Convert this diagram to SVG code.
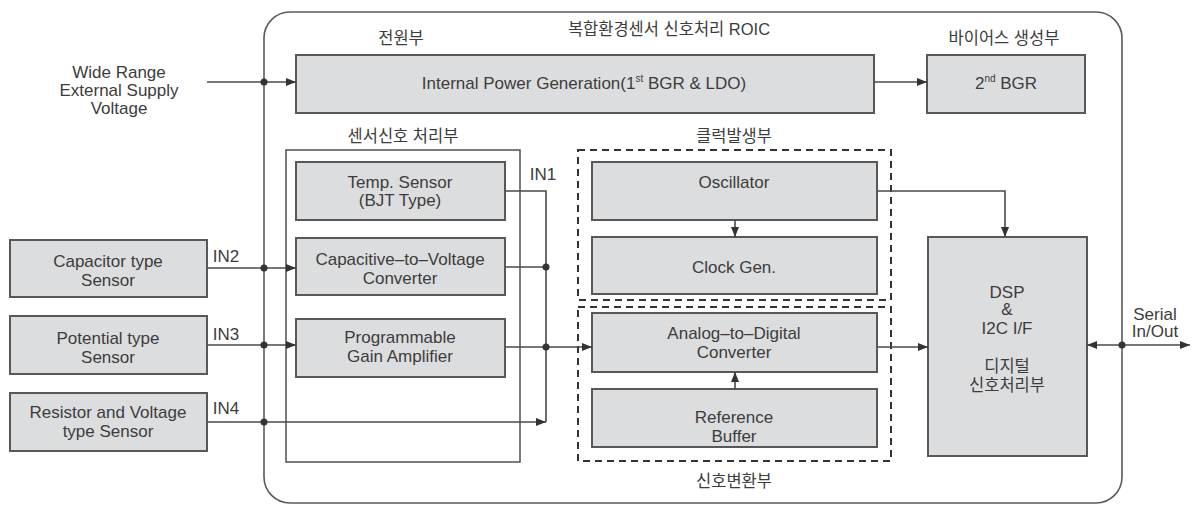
<svg xmlns="http://www.w3.org/2000/svg" width="1192" height="505" viewBox="0 0 1192 505">
<style>
text{font-family:"Liberation Sans","Noto Sans CJK KR",sans-serif;font-size:17px;fill:#3c3c3c;text-anchor:middle}
.ko{font-size:16.5px}
.sup{font-size:10px}
.box{fill:#dcdddf;stroke:#585858;stroke-width:2}
.grp{fill:none;stroke:#5a5a5a;stroke-width:1.6}
.dash{fill:none;stroke:#333;stroke-width:2;stroke-dasharray:7 5}
.ln{fill:none;stroke:#4a4a4a;stroke-width:1.6}
.dot{fill:#333}
</style>
<defs>
<marker id="ah" viewBox="0 0 10 10" refX="10" refY="5" markerWidth="10" markerHeight="10" markerUnits="userSpaceOnUse" orient="auto">
<path d="M0,1 L10,5 L0,9 Z" fill="#333"/>
</marker>
</defs>
<rect fill="#fff" x="0" y="0" width="1192" height="505"/>

<g id="roic">
<rect class="grp" x="264" y="12" width="858" height="491" rx="26" stroke-width="2"/>
<text class="ko" x="669" y="35">복합환경센서  신호처리 ROIC</text>
</g>

<g id="supply">
<text x="119" y="78">Wide Range</text>
<text x="119" y="96">External Supply</text>
<text x="119" y="114">Voltage</text>
</g>

<g id="power">
<text class="ko" x="401" y="44">전원부</text>
<rect class="box" x="296" y="55" width="578" height="58"/>
<text x="584" y="89">Internal Power Generation(1<tspan class="sup" dy="-7">st</tspan><tspan dy="7"> BGR &amp; LDO)</tspan></text>
</g>

<g id="bgr2">
<text class="ko" x="1004" y="44">바이어스 생성부</text>
<rect class="box" x="927" y="55" width="158" height="58"/>
<text x="1006" y="89">2<tspan class="sup" dy="-7">nd</tspan><tspan dy="7"> BGR</tspan></text>
</g>

<g id="sensor-proc">
<text class="ko" x="403" y="142">센서신호 처리부</text>
<rect class="grp" x="286" y="150" width="234" height="312"/>
</g>

<g id="temp">
<rect class="box" x="296" y="162" width="209" height="58"/>
<text x="400" y="188">Temp. Sensor</text>
<text x="400" y="206">(BJT Type)</text>
</g>

<g id="cv">
<rect class="box" x="296" y="238" width="209" height="57"/>
<text x="400" y="265">Capacitive–to–Voltage</text>
<text x="400" y="284">Converter</text>
</g>

<g id="pga">
<rect class="box" x="296" y="319" width="209" height="58"/>
<text x="400" y="343">Programmable</text>
<text x="400" y="362">Gain Amplifier</text>
</g>

<g id="cap-sensor">
<rect class="box" x="10" y="240" width="197" height="57"/>
<text x="108" y="267">Capacitor type</text>
<text x="108" y="286">Sensor</text>
</g>

<g id="pot-sensor">
<rect class="box" x="10" y="316" width="197" height="58"/>
<text x="108" y="344">Potential type</text>
<text x="108" y="363">Sensor</text>
</g>

<g id="res-sensor">
<rect class="box" x="10" y="393" width="197" height="58"/>
<text x="108" y="418">Resistor and Voltage</text>
<text x="108" y="437">type Sensor</text>
</g>

<g id="clock">
<text class="ko" x="734" y="142">클럭발생부</text>
<rect class="dash" x="578" y="150" width="313" height="150"/>
</g>

<g id="osc">
<rect class="box" x="592" y="162" width="285" height="58"/>
<text x="734" y="188">Oscillator</text>
</g>

<g id="clkgen">
<rect class="box" x="592" y="237" width="285" height="57"/>
<text x="734" y="273">Clock Gen.</text>
</g>

<g id="conv">
<rect class="dash" x="578" y="307" width="313" height="154"/>
<text class="ko" x="734" y="487">신호변환부</text>
</g>

<g id="adc">
<rect class="box" x="592" y="313" width="285" height="59"/>
<text x="734" y="339">Analog–to–Digital</text>
<text x="734" y="358">Converter</text>
</g>

<g id="refbuf">
<rect class="box" x="592" y="389" width="285" height="58"/>
<text x="734" y="423">Reference</text>
<text x="734" y="442">Buffer</text>
</g>

<g id="dsp">
<rect class="box" x="928" y="237" width="159" height="219"/>
<text x="1007" y="298">DSP</text>
<text x="1007" y="315">&amp;</text>
<text x="1007" y="334">I2C I/F</text>
<text class="ko" x="1007" y="372">디지털</text>
<text class="ko" x="1007" y="391">신호처리부</text>
</g>

<g id="serial">
<text x="1155" y="320">Serial</text>
<text x="1155" y="337">In/Out</text>
</g>

<g id="connectors">
<text x="226" y="262">IN2</text>
<text x="226" y="340">IN3</text>
<text x="226" y="414">IN4</text>
<text x="543" y="180">IN1</text>
<path class="ln" d="M207,82 H296" marker-end="url(#ah)"/>
<path class="ln" d="M874,82 H927" marker-end="url(#ah)"/>
<path class="ln" d="M207,268 H296" marker-end="url(#ah)"/>
<path class="ln" d="M207,345 H296" marker-end="url(#ah)"/>
<path class="ln" d="M207,422 H546" marker-end="url(#ah)"/>
<path class="ln" d="M505,191 H546 V422"/>
<path class="ln" d="M505,267 H546"/>
<path class="ln" d="M505,347 H592" marker-end="url(#ah)"/>
<path class="ln" d="M735,220 V237" marker-end="url(#ah)"/>
<path class="ln" d="M735,389 V372" marker-end="url(#ah)"/>
<path class="ln" d="M877,191 H1005 V237" marker-end="url(#ah)"/>
<path class="ln" d="M877,347 H928" marker-end="url(#ah)"/>
<path class="ln" d="M1122,345 H1087" marker-end="url(#ah)"/>
<path class="ln" d="M1122,345 H1190" marker-end="url(#ah)"/>
<circle class="dot" cx="264" cy="82" r="3.5"/>
<circle class="dot" cx="264" cy="268" r="3.5"/>
<circle class="dot" cx="264" cy="345" r="3.5"/>
<circle class="dot" cx="264" cy="422" r="3.5"/>
<circle class="dot" cx="546" cy="267" r="3.5"/>
<circle class="dot" cx="546" cy="347" r="3.5"/>
<circle class="dot" cx="1122" cy="345" r="3.5"/>
</g>
</svg>
